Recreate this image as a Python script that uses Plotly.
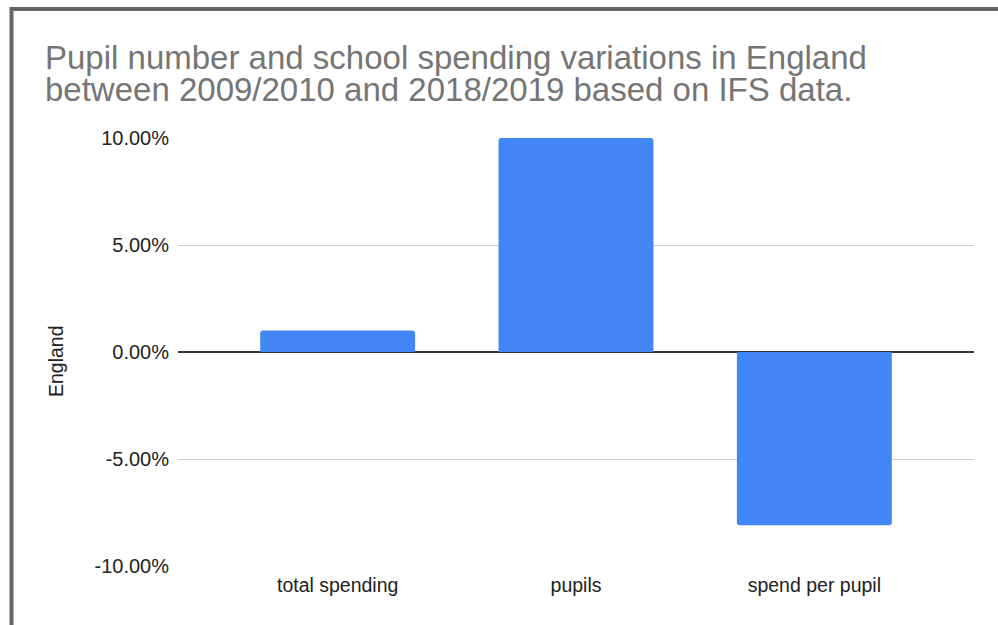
import plotly.graph_objects as go

# Data: percentage change between 2009/10 and 2018/19
categories = ["total spending", "pupils", "spend per pupil"]
change_pct = [1.0, 10.0, -8.1]
y_ticks = [-10, -5, 0, 5, 10]
y_tick_labels = ["-10.00%", "-5.00%", "0.00%", "5.00%", "10.00%"]
title_lines = [
    "Pupil number and school spending variations in England",
    "between 2009/2010 and 2018/2019 based on IFS data.",
]

W, H = 998, 625
L, R, T, B = 178, 24, 138, 59
PW, PH = W - L - R, H - T - B


def px_x(x):
    return (x - L) / PW


def px_y(y):
    return (H - B - y) / PH


FONT = "Liberation Sans, Arial, sans-serif"

fig = go.Figure(
    go.Bar(
        x=categories,
        y=change_pct,
        marker=dict(color="#4285F4", line=dict(width=0)),
        width=0.65,
        hoverinfo="x+y",
    )
)

fig.update_layout(
    width=W,
    height=H,
    margin=dict(l=L, r=R, t=T, b=B),
    paper_bgcolor="white",
    plot_bgcolor="white",
    showlegend=False,
    barcornerradius=3,
    font=dict(family=FONT, size=19, color="#222222"),
    xaxis=dict(
        range=[-0.67, 2.67],
        showgrid=False,
        showline=False,
        ticks="",
        tickfont=dict(size=19.5, color="#222222"),
        ticklabelstandoff=5,
    ),
    yaxis=dict(
        range=[-10, 10],
        tickvals=y_ticks,
        ticktext=y_tick_labels,
        showgrid=True,
        gridcolor="#cccccc",
        gridwidth=1,
        zeroline=True,
        zerolinecolor="#333333",
        zerolinewidth=1.5,
        showline=False,
        ticks="",
        tickfont=dict(size=20, color="#222222"),
        ticklabelstandoff=8,
    ),
)

# Title lines (tight leading, one annotation per line)
for i, (line, yc) in enumerate(zip(title_lines, [58, 89])):
    fig.add_annotation(
        text=line,
        xref="paper", yref="paper",
        x=px_x(43), y=px_y(yc),
        xanchor="left", yanchor="middle",
        showarrow=False,
        font=dict(family=FONT, size=33, color="#757575"),
    )

# Vertical axis title
fig.add_annotation(
    text="England",
    xref="paper", yref="paper",
    x=px_x(56), y=px_y(361),
    xanchor="center", yanchor="middle",
    textangle=-90,
    showarrow=False,
    font=dict(family=FONT, size=19.5, color="#222222"),
)

# Frame lines along the top and left edges
fig.add_shape(type="line", xref="paper", yref="paper",
              x0=px_x(10), x1=px_x(W + 5), y0=px_y(9), y1=px_y(9),
              line=dict(color="#666666", width=4))
fig.add_shape(type="line", xref="paper", yref="paper",
              x0=px_x(11.5), x1=px_x(11.5), y0=px_y(7), y1=px_y(H + 5),
              line=dict(color="#666666", width=4))

fig.write_html("out.html")
